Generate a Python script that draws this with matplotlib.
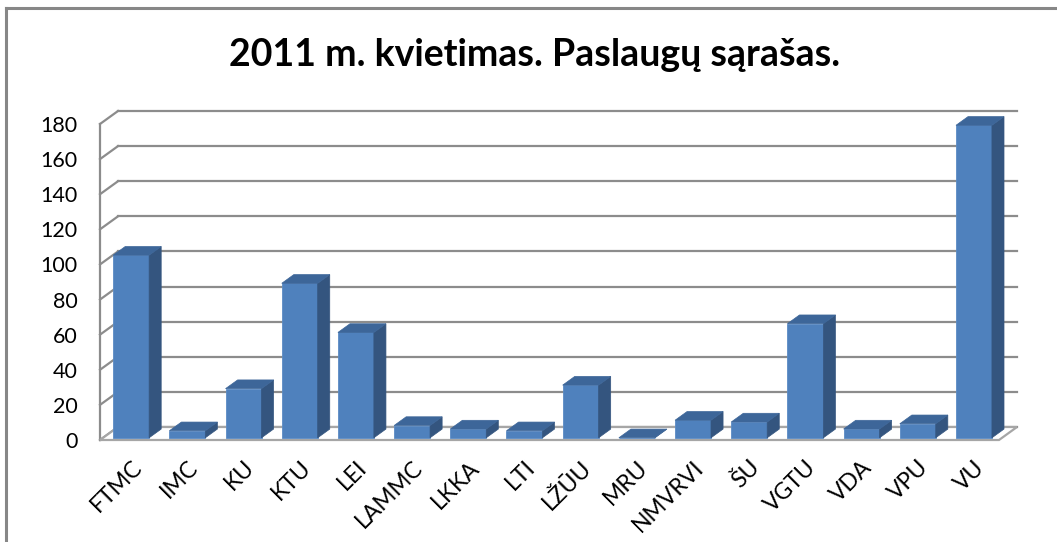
import matplotlib
matplotlib.use('Agg')
import matplotlib.pyplot as plt
import numpy as np
from matplotlib.patches import Polygon
from matplotlib.lines import Line2D

plt.rcParams['font.family'] = ['Lato', 'DejaVu Sans']

# Data
categories = ['FTMC', 'IMC', 'KU', 'KTU', 'LEI', 'LAMMC', 'LKKA', 'LTI', 'LŽŪU',
              'MRU', 'NMVRVI', 'ŠU', 'VGTU', 'VDA', 'VPU', 'VU']
values = [104, 4, 28, 88, 60, 7, 5, 4, 30, 0, 10, 9, 65, 5, 8, 178]
yticks = list(range(0, 181, 20))

title = '2011 m. kvietimas. Paslaugų sąrašas.'

front_col = '#4F81BD'
side_col = '#34557F'
top_col = '#3D6699'
grid_col = '#8C8C8C'

fig = plt.figure(figsize=(10.57, 5.42), dpi=100)
ax = fig.add_axes([100 / 1057, (542 - 440) / 542, 899 / 1057, 316 / 542])
n = len(categories)
x = np.arange(n)
ax.set_xlim(-0.5, n - 0.5)
ax.set_ylim(0, 180)

# oblique depth offset (data units) for the full floor depth
DX = 18 / (899 / n)
DY = 13 / (316 / 180)
f0, fd = 0.17, 0.67
sx0, sy0 = DX * f0, DY * f0
ddx, ddy = DX * fd, DY * fd
w = 0.64

# back wall gridlines and left wall
for v in yticks:
    ax.add_line(Line2D([-0.5 + DX, n - 0.5 + DX], [v + DY, v + DY], color=grid_col,
                       lw=1.6, clip_on=False, zorder=1))
    ax.add_line(Line2D([-0.5, -0.5 + DX], [v, v + DY], color=grid_col,
                       lw=1.6, clip_on=False, zorder=1))
ax.add_line(Line2D([-0.5, -0.5], [0, 180], color=grid_col, lw=1.6, clip_on=False, zorder=1))

# floor
floor = Polygon([(-0.5, 0), (n - 0.5, 0), (n - 0.5 + DX, DY), (-0.5 + DX, DY)],
                closed=True, facecolor='white', edgecolor='#A6A6A6', lw=1.6,
                clip_on=False, zorder=2)
ax.add_patch(floor)

# bars
ax.bar(x + sx0, values, width=w, bottom=sy0, color=front_col, edgecolor='#5B8BC4',
       lw=0.6, zorder=3, clip_on=False)
for xi, v in zip(x, values):
    xl = xi + sx0 - w / 2
    xr = xi + sx0 + w / 2
    top = v + sy0
    side = Polygon([(xr, sy0), (xr + ddx, sy0 + ddy), (xr + ddx, top + ddy), (xr, top)],
                   closed=True, facecolor=side_col, edgecolor=side_col, lw=0.5,
                   zorder=3, clip_on=False)
    cap = Polygon([(xl, top), (xr, top), (xr + ddx, top + ddy), (xl + ddx, top + ddy)],
                  closed=True, facecolor=top_col, edgecolor=top_col, lw=0.5,
                  zorder=3, clip_on=False)
    ax.add_patch(side)
    ax.add_patch(cap)

# axes ticks
for s in ax.spines.values():
    s.set_visible(False)
ax.set_yticks(yticks)
ax.set_yticklabels([str(t) for t in yticks], fontsize=15.5)
ax.set_xticks(x + sx0)
ax.set_xticklabels(categories, fontsize=16.5, rotation=45, ha='right',
                   rotation_mode='anchor')
ax.tick_params(axis='y', length=0, pad=16)
ax.tick_params(axis='x', length=0, pad=12)
ax.patch.set_visible(False)

fig.text(535 / 1057, 1 - 55 / 542, title, fontsize=27, fontweight='bold',
         ha='center', va='center')

# chart border
fig.add_artist(Line2D([6 / 1057, 1], [1 - 8 / 542, 1 - 8 / 542], color='#878787', lw=2.2,
                      transform=fig.transFigure))
fig.add_artist(Line2D([6 / 1057, 6 / 1057], [0, 1 - 8 / 542], color='#878787', lw=2.2,
                      transform=fig.transFigure))

fig.savefig('out.png', dpi=100)
